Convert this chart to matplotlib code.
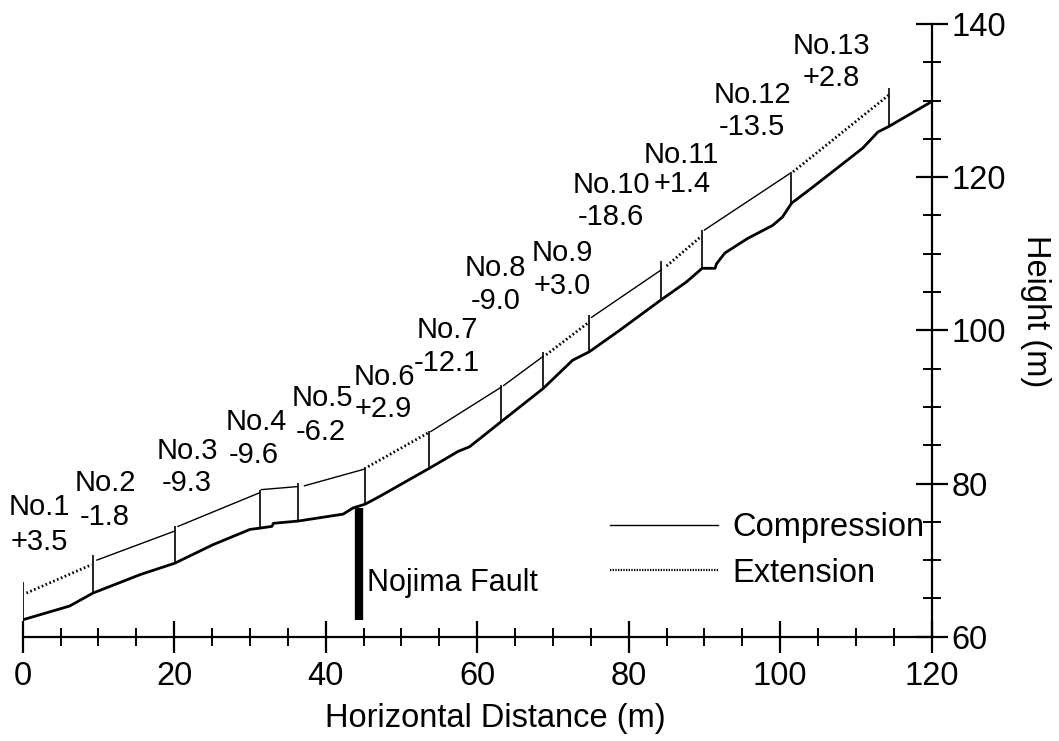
"""
Nojima fault trench profile: ground surface, survey segments and strain values.
"""

import matplotlib

matplotlib.use("Agg")
import matplotlib.pyplot as plt
from matplotlib.lines import Line2D
from matplotlib.ticker import MultipleLocator

plt.rcParams["font.family"] = ["Liberation Sans", "DejaVu Sans"]

# ground surface profile (horizontal distance [m], height [m])
ground_x = [0, 6.2, 9.3, 15.5, 20.1, 25.1, 30.0, 31.5, 32.9, 33.1, 36.4, 42.3, 43.6,
            45.2, 47.1, 53.7, 57.5, 59.0, 63.2, 68.7, 72.6, 74.8, 78.8, 84.3, 87.6,
            89.7, 91.4, 91.6, 92.7, 95.7, 99.0, 100.3, 101.5, 104.3, 110.9, 112.9,
            114.3, 119.7]
ground_h = [62.2, 64.0, 65.7, 68.1, 69.6, 72.0, 74.0, 74.2, 74.4, 74.8, 75.1, 76.0, 76.8,
            77.3, 78.3, 82.0, 84.2, 84.8, 88.1, 92.4, 96.1, 97.2, 100.0, 104.0, 106.3,
            108.1, 108.1, 108.7, 110.1, 112.0, 113.7, 114.8, 116.6, 118.7, 123.8, 125.9,
            126.6, 129.7]

# survey segments: name, strain (+ extension / - compression), upper line ends
seg_names = ["No.1", "No.2", "No.3", "No.4", "No.5", "No.6", "No.7",
             "No.8", "No.9", "No.10", "No.11", "No.12", "No.13"]
seg_strain = [3.5, -1.8, -9.3, -9.6, -6.2, 2.9, -12.1, -9.0, 3.0, -18.6, 1.4, -13.5, 2.8]
seg_x0 = [0.5, 9.8, 20.5, 31.5, 37.2, 45.6, 53.9, 63.5, 69.1, 75.1, 85.0, 90.0, 101.7]
seg_x1 = [9.1, 20.1, 31.3, 36.3, 45.2, 53.5, 63.2, 68.7, 74.8, 84.3, 89.6, 101.3, 114.3]
seg_top0 = [65.7, 70.0, 74.4, 79.2, 79.7, 82.2, 86.8, 92.8, 96.8, 101.7, 108.4, 113.1, 120.7]
seg_top1 = [69.4, 73.8, 78.8, 79.6, 81.9, 86.6, 92.6, 96.6, 101.1, 107.9, 112.3, 120.5, 130.7]

# vertical markers at segment boundaries
mark_x = [0, 9.3, 20.1, 31.3, 36.3, 45.2, 53.7, 63.2, 68.7, 74.8, 84.3, 89.7, 101.4, 114.4]
mark_bottom = [62.2, 65.7, 69.6, 74.2, 75.1, 77.3, 82.0, 88.1, 92.4, 97.2, 104.0, 108.1,
               116.6, 126.6]
mark_top = [67.2, 70.7, 74.5, 79.1, 80.1, 82.2, 86.8, 92.8, 97.2, 102.0, 109.0, 113.1,
            120.7, 131.6]

fault_x = 44.4
fault_bottom = 62.2
fault_top = 76.8

# layout: label anchors (data coords) for segment name and strain text
name_xy = [(2.2, 76.9), (10.9, 80.1), (21.8, 84.2), (30.8, 88.0), (39.5, 91.2),
           (47.7, 93.9), (56.1, 100.0), (62.4, 108.1), (71.3, 110.1), (77.7, 119.0),
           (87.0, 122.9), (96.3, 130.7), (106.8, 137.1)]
value_xy = [(2.2, 72.4), (10.8, 75.6), (21.7, 80.1), (30.5, 83.7), (39.4, 86.7),
            (47.6, 89.7), (56.0, 95.7), (62.4, 103.8), (71.2, 105.8), (77.6, 114.8),
            (87.0, 119.1), (96.3, 126.5), (106.8, 132.9)]

fig = plt.figure(figsize=(10.59, 7.41), dpi=100)
ax = fig.add_axes([0.0214, 0.1408, 0.8584, 0.8268])

ax.plot(ground_x, ground_h, color="black", lw=2.0, solid_joinstyle="round")
for x0, x1, t0, t1, s in zip(seg_x0, seg_x1, seg_top0, seg_top1, seg_strain):
    if s > 0:
        ax.plot([x0, x1], [t0, t1], color="black", lw=2.0, ls=(0, (0.6, 0.9)))
    else:
        ax.plot([x0, x1], [t0, t1], color="black", lw=1.0)
ax.vlines(mark_x, mark_bottom, mark_top, color="black", lw=1.2)
ax.vlines(fault_x, fault_bottom, fault_top, color="black", lw=6)
ax.text(fault_x + 1.0, 67.0, "Nojima Fault", fontsize=22, ha="left", va="center")

for name, s, (nx, ny), (vx, vy) in zip(seg_names, seg_strain, name_xy, value_xy):
    ax.text(nx, ny, name, fontsize=21, ha="center", va="center")
    ax.text(vx, vy, f"{s:+.1f}", fontsize=21, ha="center", va="center")

handles = [Line2D([], [], color="black", lw=1.0),
           Line2D([], [], color="black", lw=1.6, ls=(0, (0.6, 0.6)))]
ax.legend(handles, ["Compression", "Extension"], loc="center left",
          bbox_to_anchor=(0.646, 0.1406), frameon=False, fontsize=23.5,
          handlelength=3.3, handletextpad=0.45, labelspacing=0.45,
          borderpad=0, borderaxespad=0)

ax.set_xlim(0, 120)
ax.set_ylim(60, 140)
for side in ("top", "left"):
    ax.spines[side].set_visible(False)
for side in ("bottom", "right"):
    ax.spines[side].set_linewidth(1.6)
ax.yaxis.tick_right()
ax.yaxis.set_label_position("right")
ax.xaxis.set_major_locator(MultipleLocator(20))
ax.xaxis.set_minor_locator(MultipleLocator(5))
ax.yaxis.set_major_locator(MultipleLocator(20))
ax.yaxis.set_minor_locator(MultipleLocator(5))
ax.tick_params(which="major", direction="inout", length=23, width=1.6, labelsize=23.5)
ax.tick_params(which="minor", direction="inout", length=13, width=1.4)
ax.tick_params(axis="x", which="major", pad=6)
ax.tick_params(axis="y", which="major", pad=3)

ax.set_xlabel("Horizontal Distance (m)", fontsize=23.5, va="center", ha="center")
ax.xaxis.set_label_coords(0.52, -0.133)
ax.set_ylabel("Height (m)", fontsize=23.5, rotation=270, va="center", ha="center")
ax.yaxis.set_label_coords(1.114, 0.532)

fig.savefig("out.png", dpi=100)
